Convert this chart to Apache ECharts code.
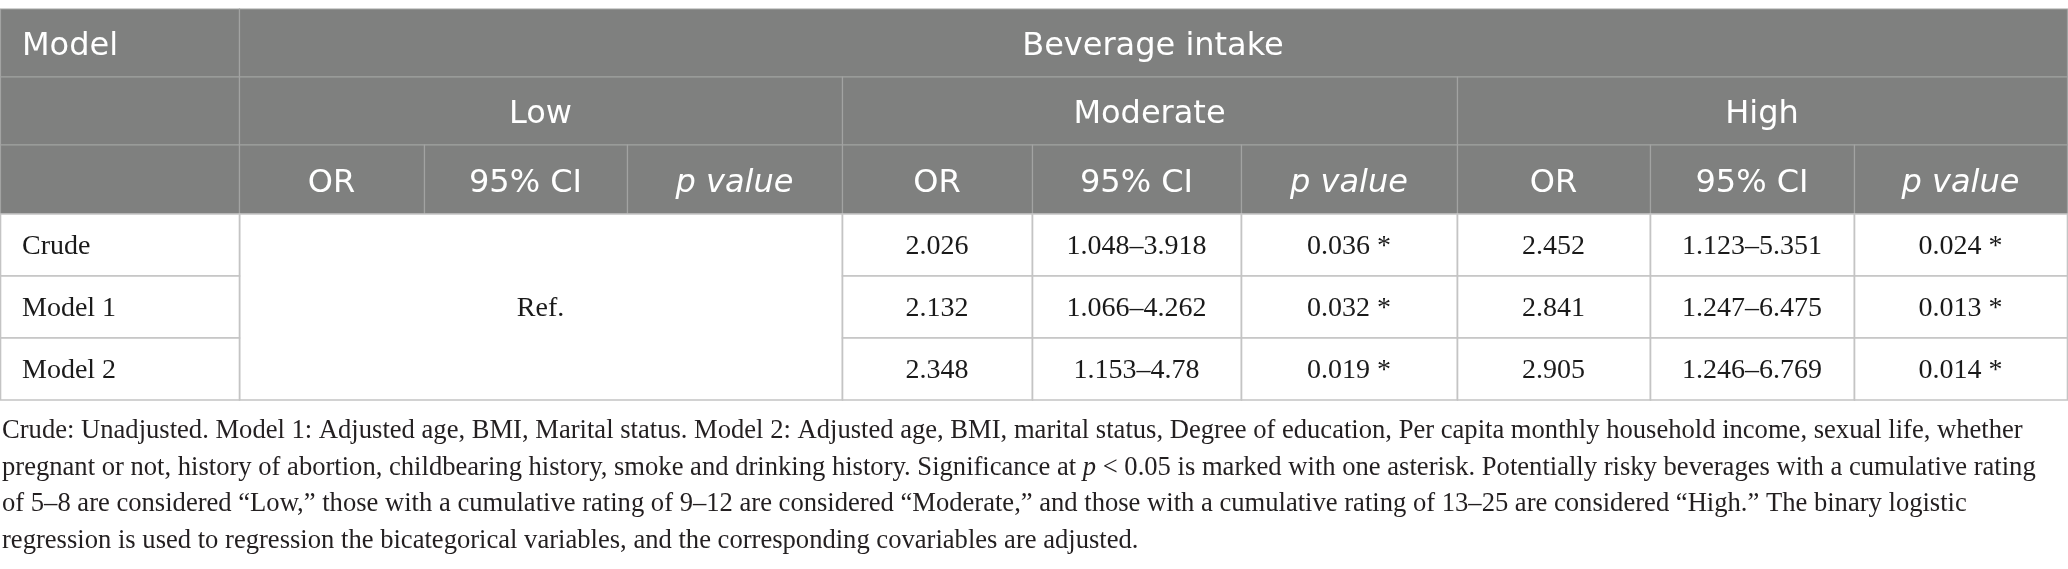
<!DOCTYPE html>
<html>
<head>
<meta charset="utf-8">
<title>Beverage intake table</title>
<script src="https://cdn.jsdelivr.net/npm/echarts@6/dist/echarts.min.js"></script>
<style>
  html, body { margin: 0; padding: 0; background: #fff; }
  #chart { width: 2068px; height: 569px; }
</style>
</head>
<body>
<div id="chart"></div>
<script>
// table content
var models = ['Crude', 'Model 1', 'Model 2'];
var groups = ['Low', 'Moderate', 'High'];
var statNames = ['OR', '95% CI', 'p value'];
var refLabel = 'Ref.';

var moderateOR = [2.026, 2.132, 2.348];
var moderateCILow = [1.048, 1.066, 1.153];
var moderateCIHigh = [3.918, 4.262, 4.78];
var moderateP = [0.036, 0.032, 0.019];

var highOR = [2.452, 2.841, 2.905];
var highCILow = [1.123, 1.247, 1.246];
var highCIHigh = [5.351, 6.475, 6.769];
var highP = [0.024, 0.013, 0.014];

var footnoteLines = [
    'Crude: Unadjusted. Model 1: Adjusted age, BMI, Marital status. Model 2: Adjusted age, BMI, marital status, Degree of education, Per capita monthly household income, sexual life, whether',
    'pregnant or not, history of abortion, childbearing history, smoke and drinking history. Significance at {i|p} < 0.05 is marked with one asterisk. Potentially risky beverages with a cumulative rating',
    'of 5\u20138 are considered \u201cLow,\u201d those with a cumulative rating of 9\u201312 are considered \u201cModerate,\u201d and those with a cumulative rating of 13\u201325 are considered \u201cHigh.\u201d The binary logistic',
    'regression is used to regression the bicategorical variables, and the corresponding covariables are adjusted.'
];

// layout (pixel space of the axes)
var W = 2068, H = 569;
var colEdges = [0, 239, 424, 627, 842, 1032, 1241, 1457, 1650, 1854, 2067];
var rowEdges = [9, 77, 145, 214, 276, 338, 400];
var headFont = '32px "DejaVu Sans", "Open Sans", sans-serif';
var bodyFont = '28px "Liberation Serif", "DejaVu Serif", serif';
var noteSize = 26.6;

function sig(p) { return String(p) + ' *'; }

function buildCells() {
    var cells = [];
    var add = function (c0, c1, r0, r1, text, kind, align) {
        cells.push({ x0: colEdges[c0], x1: colEdges[c1], y0: rowEdges[r0], y1: rowEdges[r1],
            text: text, kind: kind, align: align || 'center' });
    };
    // header
    add(0, 1, 0, 1, 'Model', 'head', 'left');
    add(1, 10, 0, 1, 'Beverage intake', 'head');
    add(0, 1, 1, 2, '', 'head');
    add(0, 1, 2, 3, '', 'head');
    groups.forEach(function (g, gi) {
        add(1 + gi * 3, 4 + gi * 3, 1, 2, g, 'head');
        statNames.forEach(function (s, si) {
            add(1 + gi * 3 + si, 2 + gi * 3 + si, 2, 3, s, si === 2 ? 'headItalic' : 'head');
        });
    });
    // body
    add(1, 4, 3, 6, refLabel, 'body');
    models.forEach(function (m, i) {
        add(0, 1, 3 + i, 4 + i, m, 'body', 'left');
        add(4, 5, 3 + i, 4 + i, String(moderateOR[i]), 'body');
        add(5, 6, 3 + i, 4 + i, moderateCILow[i] + '\u2013' + moderateCIHigh[i], 'body');
        add(6, 7, 3 + i, 4 + i, sig(moderateP[i]), 'body');
        add(7, 8, 3 + i, 4 + i, String(highOR[i]), 'body');
        add(8, 9, 3 + i, 4 + i, highCILow[i] + '\u2013' + highCIHigh[i], 'body');
        add(9, 10, 3 + i, 4 + i, sig(highP[i]), 'body');
    });
    return cells;
}

var cells = buildCells();
var chart = echarts.init(document.getElementById('chart'));

chart.setOption({
    animation: false,
    grid: { left: 0, right: 0, top: 0, bottom: 0 },
    xAxis: { type: 'value', min: 0, max: W, show: false },
    yAxis: { type: 'value', min: 0, max: H, inverse: true, show: false },
    series: [{
        type: 'custom',
        clip: false,
        data: cells.map(function (c, i) { return [c.x0, c.y0, c.x1, c.y1, i]; }),
        renderItem: function (params, api) {
            var c = cells[api.value(4)];
            var p0 = api.coord([api.value(0), api.value(1)]);
            var p1 = api.coord([api.value(2), api.value(3)]);
            var isHead = c.kind !== 'body';
            var tx = c.align === 'left' ? p0[0] + 22 : (p0[0] + p1[0]) / 2;
            var ty = (p0[1] + p1[1]) / 2 + (isHead ? 4 : 2);
            return {
                type: 'group',
                children: [{
                    type: 'rect',
                    shape: { x: p0[0] + 0.5, y: p0[1], width: p1[0] - p0[0], height: p1[1] - p0[1] },
                    style: {
                        fill: isHead ? '#7f807f' : '#ffffff',
                        stroke: isHead ? '#a2a3a2' : '#c4c4c4',
                        lineWidth: isHead ? 1.2 : 1.6
                    }
                }, {
                    type: 'text',
                    style: {
                        x: tx, y: ty,
                        text: c.text,
                        align: c.align,
                        verticalAlign: 'middle',
                        font: (c.kind === 'headItalic' ? 'italic ' : '') + (isHead ? headFont : bodyFont),
                        fill: isHead ? '#ffffff' : '#1a1a1a'
                    }
                }]
            };
        }
    }],
    graphic: footnoteLines.map(function (line, i) {
        return {
            type: 'text',
            left: 2,
            top: 418 + i * 36.4,
            style: {
                text: line,
                font: noteSize + 'px "Liberation Serif", "DejaVu Serif", serif',
                fill: '#231f20',
                rich: { i: { fontStyle: 'italic', fontSize: noteSize, fontFamily: '"Liberation Serif", serif', fill: '#231f20' } }
            }
        };
    })
});
</script>
</body>
</html>
